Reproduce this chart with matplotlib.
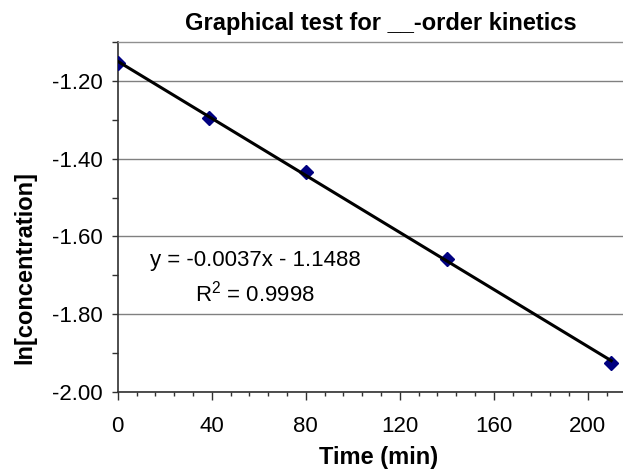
import numpy as np
import matplotlib
matplotlib.use("Agg")
import matplotlib.pyplot as plt
from matplotlib.ticker import MultipleLocator, FormatStrFormatter

plt.rcParams["font.family"] = ["Liberation Sans", "DejaVu Sans"]
plt.rcParams["mathtext.fontset"] = "custom"
plt.rcParams["mathtext.rm"] = "Liberation Sans"

# data
times = [0, 39, 80, 140, 210]
ln_conc = [-1.154, -1.297, -1.434, -1.659, -1.924]

title = "Graphical test for __-order kinetics"
x_title = "Time (min)"
y_title = "ln[concentration]"
eq_text = "y = -0.0037x - 1.1488"
r2_text = "R$^\\mathregular{2}$ = 0.9998"

# linear trendline
slope, intercept = np.polyfit(times, ln_conc, 1)
fit_x = np.array([min(times), max(times)])
fit_y = slope * fit_x + intercept

fig = plt.figure(figsize=(6.23, 4.71), dpi=100)
ax = fig.add_axes([0.189, 0.167, 0.811, 0.7445])

ax.plot(times, ln_conc, linestyle="none", marker="D", markersize=7,
        color="#000080", zorder=3)
ax.plot(fit_x, fit_y, color="black", linewidth=2.2, zorder=4)

ax.set_xlim(0, 215)
ax.set_ylim(-2.0, -1.1)
ax.xaxis.set_major_locator(MultipleLocator(40))
ax.xaxis.set_minor_locator(MultipleLocator(8))
ax.yaxis.set_major_locator(MultipleLocator(0.2))
ax.yaxis.set_minor_locator(MultipleLocator(0.1))
ax.yaxis.set_major_formatter(FormatStrFormatter("%.2f"))

ax.grid(axis="y", which="major", color="#808080", linewidth=1.0)
ax.set_axisbelow(True)
ax.spines["right"].set_visible(False)
ax.spines["top"].set_color("#909090")
ax.spines["top"].set_linewidth(1.0)
for s in ["left", "bottom"]:
    ax.spines[s].set_color("#303030")
    ax.spines[s].set_linewidth(1.2)

ax.tick_params(axis="y", which="both", direction="out", length=4, width=1,
               color="#303030", labelsize=16, pad=7)
ax.tick_params(axis="x", which="major", direction="out", length=6, width=1,
               color="#303030", labelsize=16, pad=11)
ax.tick_params(axis="x", which="minor", direction="out", length=3, width=1,
               color="#303030")

ax.text(58.6, -1.675, eq_text, fontsize=16, ha="center", va="baseline")
ax.text(58.6, -1.7666, r2_text, fontsize=16, ha="center", va="baseline")

fig.text(0.611, 0.936, title, fontsize=17, fontweight="bold",
         ha="center", va="baseline")
fig.text(0.607, 0.015, x_title, fontsize=17, fontweight="bold",
         ha="center", va="baseline")
fig.text(0.04, 0.433, y_title, fontsize=17, fontweight="bold",
         ha="center", va="center", rotation=90)

fig.savefig("out.png", dpi=100)
